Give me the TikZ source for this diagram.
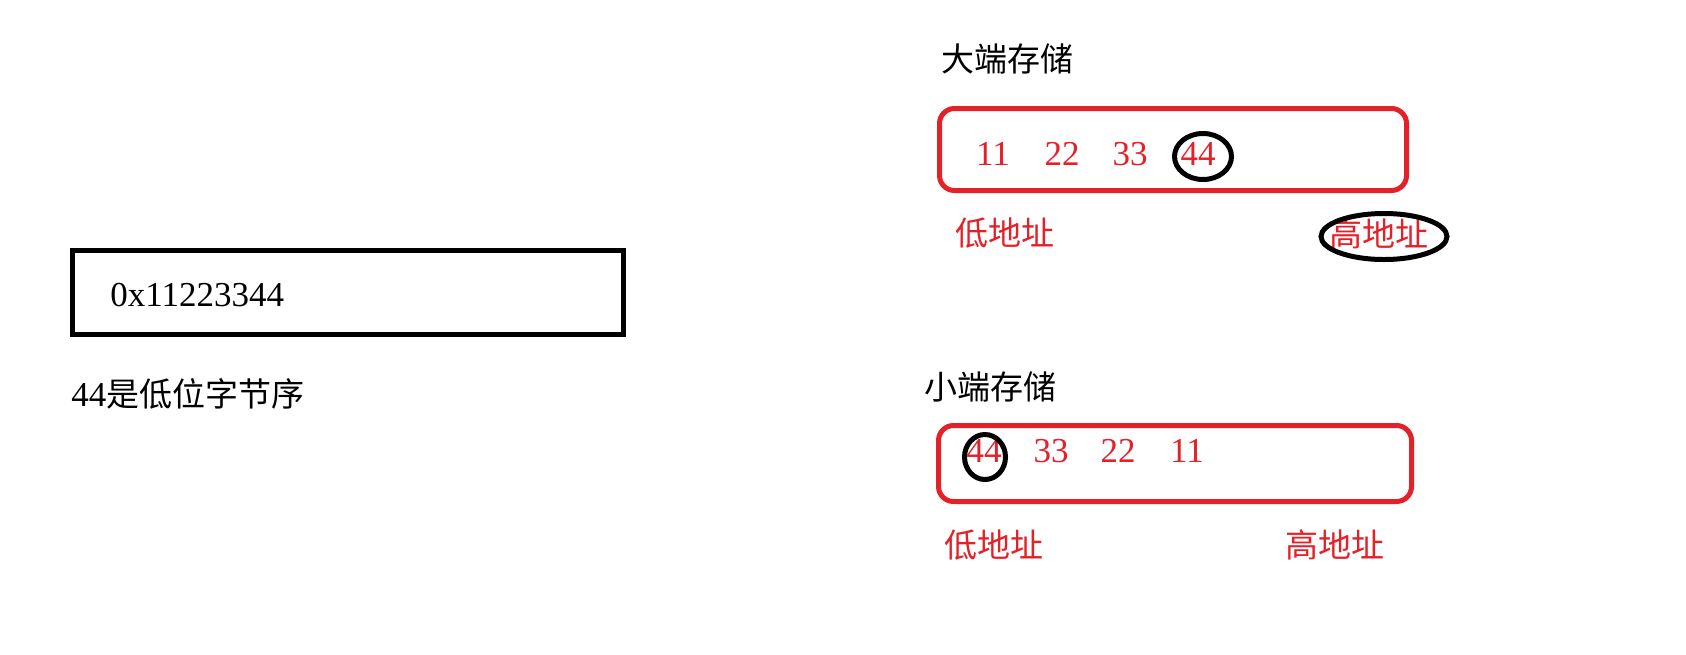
\documentclass[tikz,border=0pt]{standalone}
\usepackage{fontspec}
\setmainfont{Liberation Serif}
\newfontfamily\cjk{Noto Sans CJK SC}
\usepackage{tikz}
\usetikzlibrary{shapes.geometric}
\definecolor{memred}{RGB}{228,32,40}

\begin{document}
\begin{tikzpicture}[x=0.5pt,y=-0.5pt,
        lab/.style={font=\cjk\fontsize{16.5}{16.5}\selectfont},
        num/.style={font=\fontsize{17.5}{17.5}\selectfont},
        ring/.style={draw,ellipse,line width=2.5pt,inner sep=0pt}]
        \useasboundingbox (0,0) rectangle (1686,654);

        % the value
        \draw[line width=2.5pt] (72.5,250.5) rectangle (623.5,334.5);
        \node[num,anchor=west,inner sep=0pt] (val) at (110,295) {0x11223344};
        \node[anchor=west,inner sep=0pt] (note) at (71,394) {{\fontsize{17.5}{17.5}\selectfont 44}{\cjk\fontsize{16.5}{16.5}\selectfont 是低位字节序}};

        % big endian
        \node[lab] (bigtitle) at (1007,59) {大端存储};
        \draw[memred,line width=2.5pt,rounded corners=7.5pt] (939.5,108.5) rectangle (1406.5,190.5);
        \foreach \v/\x in {11/993,22/1062,33/1130,44/1198}
            \node[num,text=memred] (b\v) at (\x,154) {\v};
        \node[ring,minimum width=28.5pt,minimum height=23pt] (bmark) at (1203,156.5) {};
        \node[lab,text=memred] (blow) at (1005,233) {低地址};
        \node[lab,text=memred] (bhigh) at (1379,234) {高地址};
        \node[ring,minimum width=63pt,minimum height=23pt] (hmark) at (1384,236.5) {};

        % little endian
        \node[lab] (littletitle) at (990,387) {小端存储};
        \draw[memred,line width=2.5pt,rounded corners=7.5pt] (938.5,425.5) rectangle (1411.5,501.5);
        \foreach \v/\x in {44/984,33/1051,22/1118,11/1187}
            \node[num,text=memred] (l\v) at (\x,451) {\v};
        \node[ring,minimum width=20.5pt,minimum height=22.5pt] (lmark) at (985,457) {};
        \node[lab,text=memred] (llow) at (994,545) {低地址};
        \node[lab,text=memred] (lhigh) at (1335,545) {高地址};
\end{tikzpicture}
\end{document}
